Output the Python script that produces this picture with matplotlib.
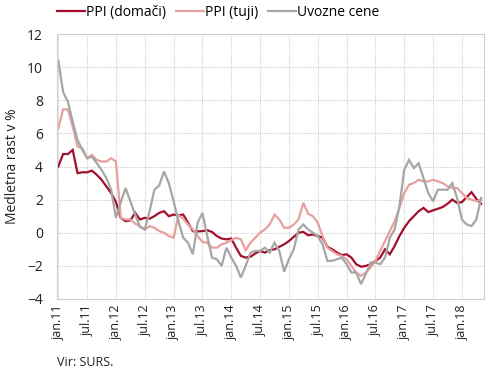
import matplotlib
matplotlib.use("Agg")
import matplotlib.pyplot as plt
import numpy as np

plt.rcParams['font.family'] = ['Open Sans', 'DejaVu Sans']

labels_series = ["PPI (domači)", "PPI (tuji)", "Uvozne cene"]

tick_labels = ["jan.11", "jul.11", "jan.12", "jul.12", "jan.13", "jul.13", "jan.14",
               "jul.14", "jan.15", "jul.15", "jan.16", "jul.16", "jan.17", "jul.17", "jan.18"]

ppi_domaci = [
    4.0, 4.75, 4.75, 5.0, 3.6, 3.65, 3.65, 3.75, 3.5, 3.2,
    2.8, 2.4, 1.85, 0.9, 0.7, 0.75, 1.2, 0.8, 0.9, 0.85,
    1.0, 1.2, 1.3, 1.0, 1.1, 1.05, 1.1, 0.6, 0.1, 0.08,
    0.1, 0.15, 0.05, -0.2, -0.35, -0.4, -0.35, -0.9, -1.4, -1.5,
    -1.45, -1.25, -1.1, -1.2, -1.05, -1.0, -0.85, -0.7, -0.5, -0.25,
    0.0, 0.05, -0.15, -0.1, -0.2, -0.3, -0.85, -1.0, -1.2, -1.35,
    -1.3, -1.5, -1.9, -2.05, -2.0, -1.9, -1.7, -1.5, -1.0, -1.3,
    -0.8, -0.2, 0.3, 0.7, 1.0, 1.3, 1.5, 1.25, 1.35, 1.45,
    1.55, 1.75, 2.0, 1.8, 1.85, 2.15, 2.45, 2.05, 1.75,
]

ppi_tuji = [
    6.3, 7.45, 7.45, 6.4, 5.2, 5.1, 4.5, 4.7, 4.4, 4.3,
    4.3, 4.5, 4.3, 0.9, 0.8, 0.8, 0.55, 0.4, 0.2, 0.4,
    0.3, 0.1, 0.0, -0.2, -0.3, 1.05, 0.85, 0.5, 0.2, -0.2,
    -0.55, -0.6, -0.9, -0.9, -0.7, -0.6, -0.45, -0.3, -0.4, -1.05,
    -0.6, -0.3, 0.0, 0.2, 0.5, 1.1, 0.8, 0.3, 0.3, 0.5,
    0.8, 1.8, 1.15, 1.0, 0.6, -0.2, -0.9, -1.1, -1.3, -1.4,
    -1.6, -2.0, -2.4, -2.6, -2.4, -2.1, -1.7, -1.1, -0.5, 0.1,
    0.7, 1.5, 2.4, 2.9, 3.0, 3.2, 3.1, 3.1, 3.2, 3.1,
    3.0, 2.8, 2.7, 2.7, 2.4, 2.1, 2.0, 1.9, 2.0,
]

uvozne_cene = [
    10.4, 8.5, 7.9, 6.7, 5.6, 5.0, 4.5, 4.6, 4.2, 3.8,
    3.3, 2.6, 0.9, 1.85, 2.7, 1.9, 1.1, 0.35, 0.2, 1.3,
    2.6, 2.85, 3.7, 3.0, 1.9, 0.7, -0.3, -0.6, -1.3, 0.6,
    1.2, -0.2, -1.5, -1.6, -2.0, -0.9, -1.5, -2.0, -2.7, -2.0,
    -1.2, -1.1, -1.1, -0.9, -1.2, -0.6, -1.1, -2.35, -1.6, -1.0,
    0.2, 0.5, 0.2, 0.0, -0.2, -0.7, -1.7, -1.7, -1.6, -1.5,
    -1.9, -2.4, -2.4, -3.1, -2.5, -1.8, -1.8, -1.9, -1.5, -0.3,
    0.2, 1.6, 3.8, 4.4, 3.9, 4.2, 3.3, 2.4, 1.9, 2.6,
    2.6, 2.6, 3.0, 2.1, 0.8, 0.5, 0.4, 0.8, 2.1,
]

colors = ["#A50F2D", "#E8A09E", "#A6A6A6"]

fig = plt.figure(figsize=(4.9, 3.75), dpi=100)
ax = fig.add_axes([57/490, 1-299/375, (484-57)/490, (299-34)/375])

x = np.arange(len(ppi_domaci))
for series, lab, c in zip([ppi_domaci, ppi_tuji, uvozne_cene], labels_series, colors):
    ax.plot(x, series, color=c, lw=1.6, label=lab, solid_joinstyle='miter')

ax.set_xlim(-0.27, 88.6)
ax.set_ylim(-4, 12)
ax.set_yticks(np.arange(-4, 13, 2))
ax.set_xticks(np.arange(0, 6*len(tick_labels), 6))
ax.set_xticklabels(tick_labels, rotation=90, fontsize=9, color="#222222")
ax.tick_params(axis='y', labelsize=10, length=0, pad=10, colors="#222222")
ax.tick_params(axis='x', length=0, pad=4)
ax.grid(True, color="#CFCFCF", linestyle=(0, (1, 1)), linewidth=0.8)
ax.set_axisbelow(True)
for s in ax.spines.values():
    s.set_color("#D0D0D0")
    s.set_linewidth(0.8)

ax.set_ylabel("Medletna rast v %", fontsize=10, color="#222222", labelpad=5)

fig.legend(loc='upper left', bbox_to_anchor=(57/490, 1-5/375), ncol=3, frameon=False,
           fontsize=10, handlelength=2.0, handletextpad=0.1, columnspacing=0.7,
           borderaxespad=0, borderpad=0)

fig.text(57/490, 1-363/375, "Vir: SURS.", fontsize=9, color="#222222", va='center', ha='left')

fig.savefig("out.png", dpi=100)
